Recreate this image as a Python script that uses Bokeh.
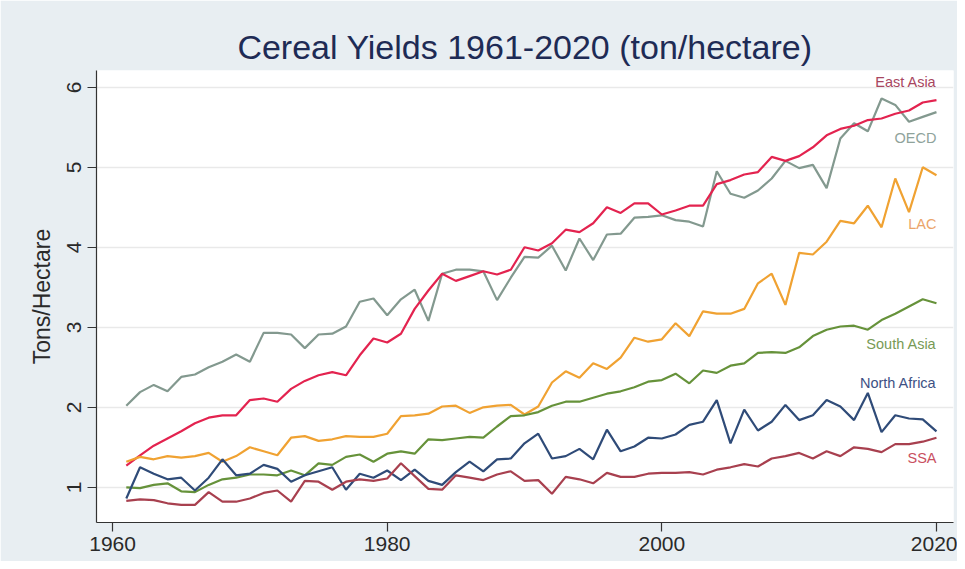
from bokeh.plotting import figure
from bokeh.models import ColumnDataSource, FixedTicker, Range1d
from bokeh.embed import file_html
from bokeh.resources import INLINE
from bokeh.core.properties import value

years = list(range(1961, 2021))

oecd = [2.02, 2.19, 2.28, 2.20, 2.38, 2.41, 2.50, 2.57, 2.66, 2.57,
        2.93, 2.93, 2.91, 2.74, 2.91, 2.92, 3.01, 3.32, 3.36, 3.15,
        3.35, 3.47, 3.08, 3.67, 3.72, 3.72, 3.70, 3.34, 3.62, 3.88,
        3.87, 4.02, 3.71, 4.11, 3.84, 4.16, 4.17, 4.37, 4.38, 4.40,
        4.34, 4.32, 4.26, 4.95, 4.67, 4.62, 4.71, 4.86, 5.08, 4.99,
        5.03, 4.74, 5.36, 5.55, 5.45, 5.86, 5.78, 5.57, 5.63, 5.69]

east_asia = [1.27, 1.40, 1.52, 1.61, 1.70, 1.80, 1.87, 1.90, 1.90, 2.09,
             2.11, 2.07, 2.23, 2.33, 2.40, 2.44, 2.40, 2.65, 2.86, 2.81,
             2.92, 3.23, 3.46, 3.67, 3.58, 3.64, 3.70, 3.66, 3.72, 4.00,
             3.96, 4.05, 4.22, 4.19, 4.30, 4.50, 4.43, 4.55, 4.55, 4.41,
             4.46, 4.52, 4.52, 4.79, 4.84, 4.91, 4.94, 5.13, 5.08, 5.14,
             5.25, 5.40, 5.48, 5.52, 5.59, 5.61, 5.67, 5.71, 5.81, 5.84]

lac = [1.32, 1.38, 1.35, 1.39, 1.37, 1.39, 1.43, 1.32, 1.39, 1.50,
       1.45, 1.40, 1.62, 1.64, 1.58, 1.60, 1.64, 1.63, 1.63, 1.67,
       1.89, 1.90, 1.92, 2.01, 2.02, 1.93, 2.00, 2.02, 2.03, 1.91,
       2.01, 2.31, 2.45, 2.37, 2.55, 2.48, 2.62, 2.87, 2.82, 2.85,
       3.05, 2.89, 3.20, 3.17, 3.17, 3.23, 3.55, 3.67, 3.28, 3.93,
       3.91, 4.07, 4.33, 4.30, 4.52, 4.25, 4.86, 4.44, 5.00, 4.90]

south_asia = [1.00, 0.99, 1.03, 1.05, 0.95, 0.94, 1.03, 1.10, 1.12, 1.16,
              1.16, 1.15, 1.21, 1.15, 1.30, 1.28, 1.38, 1.41, 1.32, 1.42,
              1.45, 1.42, 1.60, 1.59, 1.61, 1.63, 1.62, 1.76, 1.89, 1.90,
              1.94, 2.02, 2.07, 2.07, 2.12, 2.17, 2.20, 2.25, 2.32, 2.34,
              2.42, 2.30, 2.46, 2.43, 2.52, 2.55, 2.68, 2.69, 2.68, 2.75,
              2.89, 2.97, 3.01, 3.02, 2.97, 3.09, 3.17, 3.26, 3.35, 3.30]

north_africa = [0.86, 1.25, 1.17, 1.10, 1.12, 0.96, 1.12, 1.35, 1.15, 1.17,
                1.28, 1.23, 1.07, 1.15, 1.20, 1.25, 0.97, 1.17, 1.12, 1.21,
                1.09, 1.22, 1.08, 1.03, 1.19, 1.32, 1.20, 1.35, 1.36, 1.55,
                1.67, 1.36, 1.39, 1.48, 1.35, 1.72, 1.45, 1.51, 1.62, 1.61,
                1.66, 1.78, 1.82, 2.09, 1.55, 1.97, 1.71, 1.82, 2.03, 1.84,
                1.90, 2.09, 2.01, 1.84, 2.18, 1.69, 1.90, 1.86, 1.85, 1.70]

ssa = [0.83, 0.85, 0.84, 0.80, 0.78, 0.78, 0.94, 0.82, 0.82, 0.86,
       0.93, 0.96, 0.82, 1.08, 1.07, 0.97, 1.07, 1.10, 1.08, 1.11,
       1.30, 1.14, 0.98, 0.97, 1.15, 1.12, 1.09, 1.16, 1.20, 1.08,
       1.09, 0.92, 1.13, 1.10, 1.05, 1.18, 1.13, 1.13, 1.17, 1.18,
       1.18, 1.19, 1.16, 1.22, 1.25, 1.29, 1.26, 1.36, 1.39, 1.43,
       1.36, 1.45, 1.39, 1.50, 1.48, 1.44, 1.54, 1.54, 1.57, 1.62]

series_names = ["OECD", "East Asia", "LAC", "South Asia", "North Africa", "SSA"]
series_values = [oecd, east_asia, lac, south_asia, north_africa, ssa]
line_colors = ["#83998f", "#e3234f", "#f0a232", "#66923a", "#2f4b78", "#a8404f"]
label_colors = ["#8fa39b", "#a8465f", "#eba46a", "#789a55", "#3d5184", "#c9505f"]
label_y = [5.37, 6.07, 4.29, 2.79, 2.30, 1.37]

x_ticks = [1960, 1980, 2000, 2020]
y_ticks = [1, 2, 3, 4, 5, 6]

p = figure(width=957, height=561, output_backend="svg", toolbar_location=None,
           x_range=Range1d(1958.83, 2021.24), y_range=Range1d(0.56, 6.21),
           title="Cereal Yields 1961-2020 (ton/hectare)",
           min_border_left=96, min_border_right=4, min_border_top=70, min_border_bottom=39)

p.background_fill_color = "white"
p.border_fill_color = "#e8eef2"
p.outline_line_color = None

p.title.align = "center"
p.title.text_font = "Liberation Sans"
p.title.text_font_size = "34px"
p.title.text_font_style = "normal"
p.title.text_color = "#1e2b55"
p.title.offset = 0
p.title.standoff = 9

for name, vals, col in zip(series_names, series_values, line_colors):
    src = ColumnDataSource(dict(x=years, y=vals))
    p.line("x", "y", source=src, line_color=col, line_width=2.2)

lab_src = ColumnDataSource(dict(x=[years[-1]] * len(series_names), y=label_y,
                                t=series_names, c=label_colors))
p.text("x", "y", text="t", source=lab_src, text_color="c", text_align="right",
       text_baseline="middle", text_font=value("Liberation Sans"), text_font_size="14.5px")

p.xaxis.ticker = FixedTicker(ticks=x_ticks)
p.yaxis.ticker = FixedTicker(ticks=y_ticks)
p.xaxis.minor_tick_line_color = None
p.yaxis.minor_tick_line_color = None
for ax in (p.xaxis, p.yaxis):
    ax.axis_line_color = "#333333"
    ax.axis_line_width = 1.2
    ax.major_tick_line_color = "#333333"
    ax.major_tick_line_width = 1.2
    ax.major_tick_out = 9
    ax.major_tick_in = 0
    ax.major_label_text_font = "Liberation Sans"
    ax.major_label_text_font_size = "21px"
    ax.major_label_text_color = "#2a2a2a"

p.yaxis.major_label_orientation = "vertical"
p.yaxis.major_label_standoff = 6
p.yaxis.axis_label = "Tons/Hectare"
p.yaxis.axis_label_text_font = "Liberation Sans"
p.yaxis.axis_label_text_font_size = "23px"
p.yaxis.axis_label_text_font_style = "normal"
p.yaxis.axis_label_text_color = "#2a2a2a"
p.yaxis.axis_label_standoff = 10
p.xaxis.major_label_standoff = 5

p.xgrid.grid_line_color = None
p.ygrid.grid_line_color = "#e9e9e9"
p.ygrid.grid_line_width = 1.5

open("out.html", "w").write(file_html(p, INLINE))
